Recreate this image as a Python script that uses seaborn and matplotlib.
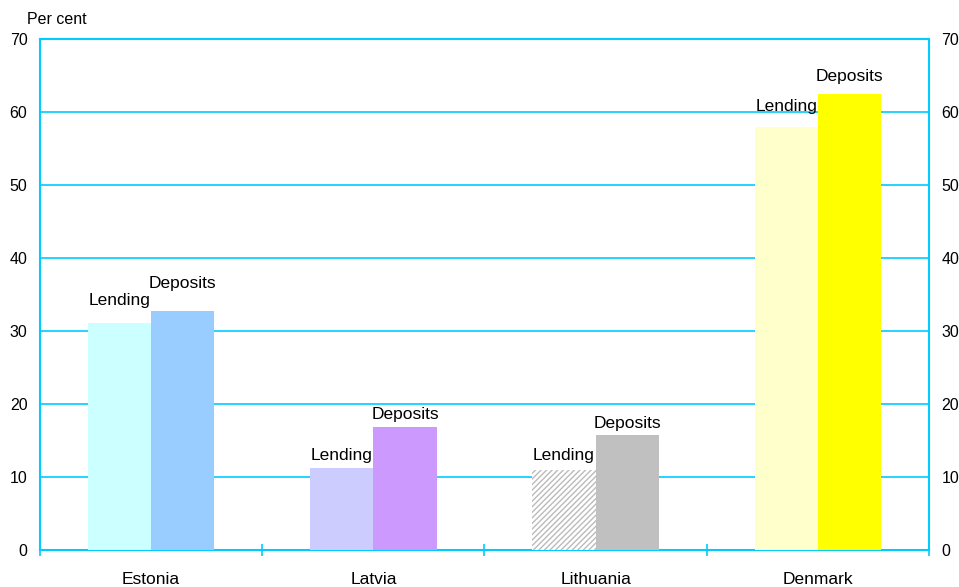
import pandas as pd
import matplotlib.pyplot as plt
import seaborn as sns

# Values (per cent)
countries = ["Estonia", "Latvia", "Lithuania", "Denmark"]
lending = [31.1, 11.2, 11.0, 58.0]
deposits = [32.8, 16.9, 15.8, 62.5]

lending_colors = ["#CCFFFF", "#CCCCFF", "#FFFFFF", "#FFFFCC"]
deposit_colors = ["#99CCFF", "#CC99FF", "#C0C0C0", "#FFFF00"]
line_col = "#00CCFF"

# label gaps above the bars (pixels), placed by hand in the original
lending_gap = [15, 5, 7, 13]
deposit_gap = [20, 5, 4, 10]

df = pd.DataFrame({
    "country": countries * 2,
    "kind": ["Lending"] * 4 + ["Deposits"] * 4,
    "value": lending + deposits,
})

sns.set_theme(style="white")
plt.rcParams["font.family"] = ["Liberation Sans", "DejaVu Sans"]
plt.rcParams["hatch.linewidth"] = 1.0
plt.rcParams["xtick.labelcolor"] = "black"
plt.rcParams["ytick.labelcolor"] = "black"

fig = plt.figure(figsize=(9.59, 5.87), dpi=100)
ax = fig.add_axes([40 / 959, 1 - 550 / 587, 889 / 959, 511 / 587])

sns.barplot(data=df, x="country", y="value", hue="kind", hue_order=["Lending", "Deposits"],
            width=0.57, gap=0, dodge=True, legend=False, ax=ax, zorder=3)

# recolour bars per country and add the labels
for kind_idx, container in enumerate(ax.containers):
    cols = lending_colors if kind_idx == 0 else deposit_colors
    gaps = lending_gap if kind_idx == 0 else deposit_gap
    label = "Lending" if kind_idx == 0 else "Deposits"
    for i, bar in enumerate(container):
        bar.set_facecolor(cols[i])
        bar.set_edgecolor("none")
        bar.set_linewidth(0)
        if kind_idx == 0 and countries[i] == "Lithuania":
            bar.set_edgecolor("#BBBBBB")
            bar.set_hatch("//////")
        ax.annotate(label, (bar.get_x() + bar.get_width() / 2, bar.get_height()),
                    xytext=(0, gaps[i] * 0.72), textcoords="offset points",
                    ha="center", va="bottom", fontsize=12.5, color="black", zorder=5)

ax.set_ylim(0, 70)
ax.set_xlim(-0.5, 3.5)
ax.set_yticks(range(0, 71, 10))
ax.yaxis.grid(True, color=line_col, linewidth=1.2, zorder=0)
ax.set_axisbelow(True)
ax.set_xlabel("")
ax.set_ylabel("")

for side in ["left", "right", "top", "bottom"]:
    ax.spines[side].set_visible(True)
    ax.spines[side].set_color(line_col)
    ax.spines[side].set_linewidth(1.5)

# category labels below, separator ticks between categories
ax.set_xticks([0, 1, 2, 3])
ax.set_xticklabels(countries, fontsize=12.5, color="black")
ax.tick_params(axis="x", which="major", length=0, pad=15.5)
ax.set_xticks([-0.5, 0.5, 1.5, 2.5, 3.5], minor=True)
ax.tick_params(axis="x", which="minor", bottom=True, direction="inout", length=9,
               width=1.2, color=line_col)

ax.tick_params(axis="y", left=False, length=0, labelsize=11.5, pad=9, labelcolor="black")
ax2 = ax.twinx()
ax2.set_ylim(0, 70)
ax2.set_yticks(range(0, 71, 10))
ax2.tick_params(axis="y", right=False, length=0, labelsize=11.5, pad=9, labelcolor="black")
for side in ["left", "right", "top", "bottom"]:
    ax2.spines[side].set_visible(False)

fig.text(27 / 959, 1 - 20 / 587, "Per cent", fontsize=11.5, va="center", ha="left",
         color="black")

fig.savefig("out.png", dpi=100)
